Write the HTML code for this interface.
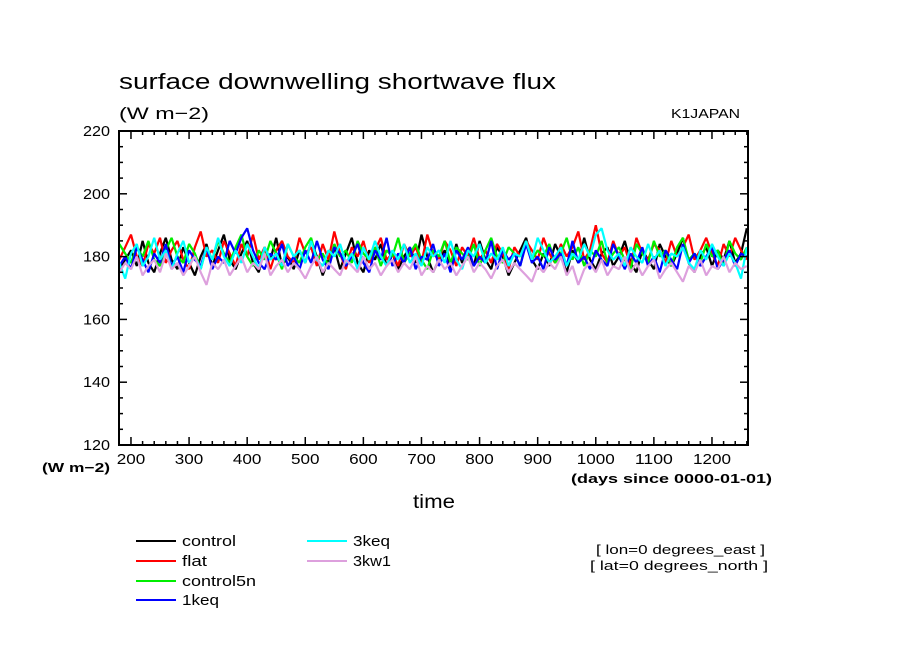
<!DOCTYPE html>
<html><head><meta charset="utf-8"><style>
html,body{margin:0;padding:0;background:#fff;}
svg{display:block;font-family:"Liberation Sans",sans-serif;}
</style></head><body>
<svg id="chart" width="904" height="654" viewBox="0 0 904 654">
<text x="119" y="89" font-size="22" fill="#000" textLength="437" lengthAdjust="spacingAndGlyphs">surface downwelling shortwave flux</text>
<text x="119" y="119" font-size="17" fill="#000" textLength="90" lengthAdjust="spacingAndGlyphs">(W m−2)</text>
<text x="671" y="118" font-size="13" fill="#000" textLength="69" lengthAdjust="spacingAndGlyphs">K1JAPAN</text>
<g id="series"></g>
<g id="axes"></g>
<text x="42" y="472" font-size="13" font-weight="bold" fill="#000" textLength="68" lengthAdjust="spacingAndGlyphs">(W m−2)</text>
<text x="571" y="483" font-size="13" font-weight="bold" fill="#000" textLength="201" lengthAdjust="spacingAndGlyphs">(days since 0000-01-01)</text>
<text x="413" y="508" font-size="19" fill="#000" textLength="42" lengthAdjust="spacingAndGlyphs">time</text>
<g id="legend"></g>
<text x="596" y="554" font-size="13" fill="#000" textLength="169" lengthAdjust="spacingAndGlyphs">[ lon=0 degrees_east ]</text>
<text x="590" y="570" font-size="13" fill="#000" textLength="178" lengthAdjust="spacingAndGlyphs">[ lat=0 degrees_north ]</text>
</svg>
<script>
const xStart = 180, xStep = 10;
const seriesNames = ["control","flat","control5n","1keq","3keq","3kw1"];
const seriesColors = ["#000000","#ff0000","#00ee00","#0000ff","#00ffff","#dda0dd"];
const yTicks = [120,140,160,180,200,220];
const xTicks = [200,300,400,500,600,700,800,900,1000,1100,1200];
const control = [176,179,182,177,185,178,175,181,186,179,176,183,178,174,180,184,177,182,187,179,176,181,185,178,175,183,179,186,177,180,176,182,178,185,180,174,179,183,176,181,186,178,175,182,179,184,177,181,176,180,183,178,187,180,175,179,182,176,184,178,181,177,185,179,176,183,180,174,178,182,186,179,176,181,177,184,180,175,182,178,186,179,176,181,183,177,180,185,178,175,182,179,176,184,180,177,181,186,178,175,180,183,177,182,179,185,178,181,189];
const flat = [179,183,187,180,177,184,181,186,178,182,185,179,176,183,188,180,182,178,185,181,177,184,180,187,179,183,176,182,185,180,178,186,181,183,177,184,179,188,181,176,183,180,185,178,182,186,179,181,177,184,180,183,178,187,181,179,185,182,177,183,180,186,179,182,178,184,181,176,183,180,185,182,179,186,181,178,184,180,183,188,179,182,190,181,178,185,180,183,177,186,181,179,184,182,178,185,180,183,187,179,182,186,181,177,184,180,186,182,179];
const control5n = [184,181,178,183,180,185,179,177,182,186,180,178,184,181,176,183,179,185,181,178,183,187,180,177,182,179,185,181,176,184,180,178,183,186,179,181,177,184,180,182,178,185,181,179,183,177,182,180,186,178,181,184,179,176,182,180,185,178,183,181,179,184,177,182,186,180,178,183,181,177,185,179,182,180,184,178,181,186,179,183,177,182,180,185,178,181,183,179,176,184,181,178,185,180,182,177,183,186,179,181,178,184,180,182,177,185,181,179,183];
const oneKeq = [177,180,176,183,179,175,181,178,184,177,180,175,182,179,177,183,176,180,178,185,181,186,189,182,178,176,181,179,184,177,180,176,182,178,185,179,176,183,181,177,180,184,178,175,182,179,186,177,181,178,183,176,180,179,184,177,181,175,182,179,183,177,180,178,185,176,182,179,181,177,184,178,180,176,183,179,181,177,185,178,180,176,182,179,177,184,180,176,181,178,183,177,180,175,182,179,176,184,178,181,177,180,183,176,179,182,177,181,180];
const threeKeq = [178,173,181,184,177,180,186,179,182,176,181,185,178,180,176,183,179,186,180,177,182,178,184,180,176,183,179,181,177,184,180,182,178,185,179,177,182,180,184,178,181,176,183,179,185,180,177,182,179,184,178,181,177,183,180,182,178,185,179,176,182,180,184,178,181,179,183,177,181,180,185,179,186,182,178,180,183,177,181,179,184,180,187,189,182,179,181,177,183,180,178,184,179,182,177,181,180,183,178,176,182,179,184,180,177,181,178,173,183];
const threeKw1 = [175,178,176,180,174,177,179,175,181,176,178,174,177,180,175,171,178,176,179,174,177,180,175,178,176,181,174,177,179,175,178,176,173,177,180,175,178,176,174,179,177,175,180,176,178,174,177,179,175,178,176,180,174,177,175,179,176,178,174,177,180,175,178,176,173,177,179,175,178,176,174,172,177,175,178,176,180,174,177,171,176,178,175,179,174,177,176,180,175,178,174,177,179,173,176,178,175,172,177,175,179,174,177,176,180,175,178,176,177];
const seriesData = [control, flat, control5n, oneKeq, threeKeq, threeKw1];

const L=119,R=748,T=131,B=445;
const xMin=179.4,xMax=1262,yMin=120,yMax=220;
const sx=v=>L+(v-xMin)/(xMax-xMin)*(R-L);
const sy=v=>B-(v-yMin)/(yMax-yMin)*(B-T);
const NS="http://www.w3.org/2000/svg";
function mk(tag,attrs,parent){const e=document.createElementNS(NS,tag);for(const k in attrs)e.setAttribute(k,attrs[k]);parent.appendChild(e);return e;}

const sg=document.getElementById('series');
seriesData.forEach((arr,i)=>{
  const pts=arr.map((v,j)=>sx(Math.min(xStart+j*xStep,xMax)).toFixed(1)+","+sy(v).toFixed(1)).join(" ");
  const p=mk('polyline',{points:pts,fill:"none",stroke:seriesColors[i],"stroke-width":2.2,"stroke-linejoin":"bevel"},sg);
  
  
});

const ax=document.getElementById('axes');
const frame=mk('rect',{x:L,y:T,width:R-L,height:B-T,fill:"none",stroke:"#000","stroke-width":2},ax);


for(let v=yMin;v<=yMax;v+=5){
  const len=(v%20===0)?8:4;const y=sy(v);
  mk('line',{x1:L,x2:L+len,y1:y,y2:y,stroke:"#000","stroke-width":1.5},ax);
  mk('line',{x1:R,x2:R-len,y1:y,y2:y,stroke:"#000","stroke-width":1.5},ax);
}
yTicks.forEach(v=>{
  const t=mk('text',{x:L-9,y:sy(v)+5,"font-size":15,"text-anchor":"end",fill:"#000",textLength:27,lengthAdjust:"spacingAndGlyphs"},ax);
  t.textContent=v;
  
  
});
for(let v=200;v<=xMax;v+=20){
  const len=(v%100===0)?8:4;const x=sx(v);
  mk('line',{x1:x,x2:x,y1:B,y2:B-len,stroke:"#000","stroke-width":1.5},ax);
  mk('line',{x1:x,x2:x,y1:T,y2:T+len,stroke:"#000","stroke-width":1.5},ax);
}
xTicks.forEach(v=>{
  const w=String(v).length*9.5;
  const t=mk('text',{x:sx(v)-w/2,y:B+19,"font-size":15,fill:"#000",textLength:w,lengthAdjust:"spacingAndGlyphs"},ax);
  t.textContent=v;
  
  
});

const lg=document.getElementById('legend');
const legPos=[[136,541],[136,561],[136,581],[136,600],[307,541],[307,561]];
const legW=[54,25,74,37,37,38];
seriesNames.forEach((n,i)=>{
  const [x,y]=legPos[i];
  const g=mk('g',{},lg);
  
  
  mk('line',{x1:x,x2:x+40,y1:y,y2:y,stroke:seriesColors[i],"stroke-width":2},g);
  const t=mk('text',{x:x+46,y:y+5,"font-size":15,fill:"#000",textLength:legW[i],lengthAdjust:"spacingAndGlyphs"},g);
  t.textContent=n;
});
</script>
</body></html>
